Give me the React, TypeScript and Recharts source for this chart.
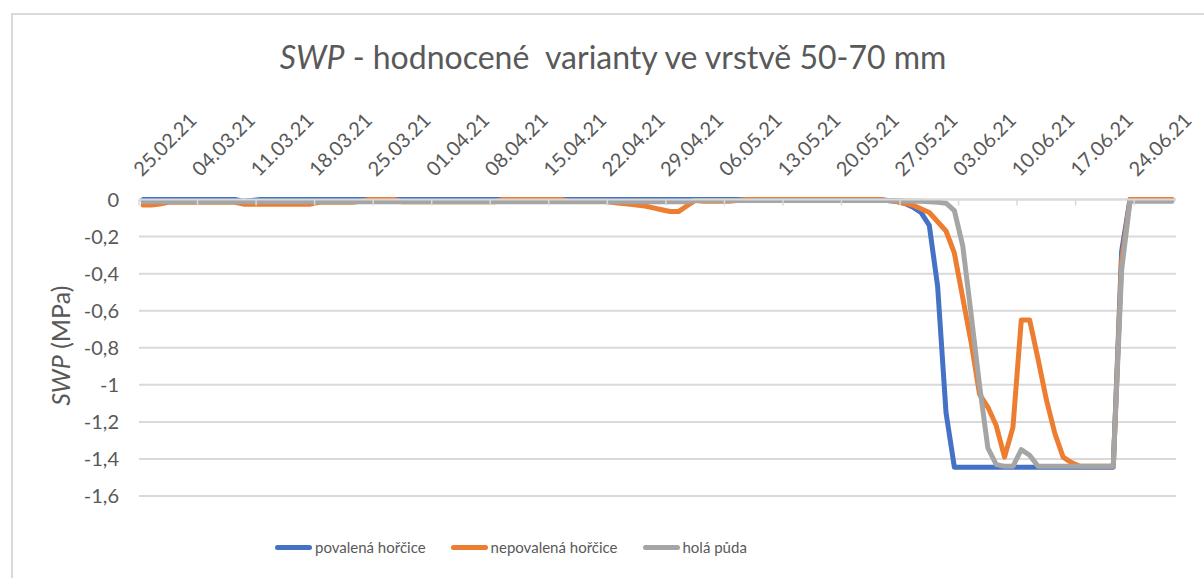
import React from 'react'
import { LineChart, Line, XAxis, YAxis, CartesianGrid } from 'recharts'

// tick labels on the top axis, one every 7 days
const DATE_LABELS = [
  '25.02.21', '04.03.21', '11.03.21', '18.03.21', '25.03.21', '01.04.21',
  '08.04.21', '15.04.21', '22.04.21', '29.04.21', '06.05.21', '13.05.21',
  '20.05.21', '27.05.21', '03.06.21', '10.06.21', '17.06.21', '24.06.21',
]

const Y_TICKS = [0, -0.2, -0.4, -0.6, -0.8, -1, -1.2, -1.4, -1.6]

// SWP (MPa), one value per day from 25.02.21 to 28.06.21
const POVALENA = [
  0, 0, 0, 0, 0, 0, 0, 0, 0, 0,
  0, 0, -0.01, -0.005, 0, 0, 0, 0, 0, 0,
  0, 0, 0, 0, 0, 0, 0, 0, 0, 0,
  0, 0, 0, 0, 0, 0, 0, 0, 0, 0,
  0, 0, 0, 0, 0, 0, 0, 0, 0, 0,
  0, 0, 0, 0, 0, 0, 0, 0, 0, 0,
  0, 0, 0, 0, 0, 0, 0, 0, 0, 0,
  0, 0, 0, 0, 0, 0, 0, 0, 0, 0,
  0, 0, 0, 0, 0, 0, 0, 0, 0, -0.005,
  -0.01, -0.02, -0.04, -0.07, -0.14, -0.47, -1.15, -1.445, -1.445, -1.445,
  -1.445, -1.445, -1.445, -1.445, -1.445, -1.445, -1.445, -1.445, -1.445, -1.445,
  -1.445, -1.445, -1.445, -1.445, -1.445, -1.445, -1.445, -0.28, 0, 0,
  0, 0, 0, 0,
]

const NEPOVALENA = [
  -0.03, -0.03, -0.025, -0.015, -0.015, -0.015, -0.015, -0.015, -0.015, -0.015,
  -0.015, -0.015, -0.025, -0.025, -0.025, -0.025, -0.025, -0.025, -0.025, -0.025,
  -0.025, -0.015, -0.015, -0.015, -0.015, -0.015, -0.01, 0, 0, 0,
  0, -0.012, -0.012, -0.012, -0.012, -0.012, -0.012, -0.012, -0.012, -0.012,
  -0.012, -0.012, -0.012, 0, 0, 0, 0, 0, 0, 0,
  0, -0.01, -0.01, -0.01, -0.01, -0.01, -0.015, -0.02, -0.025, -0.03,
  -0.035, -0.045, -0.055, -0.065, -0.065, -0.035, -0.005, -0.01, -0.01, -0.01,
  -0.01, -0.005, 0, 0, 0, 0, 0, 0, 0, 0,
  0, 0, 0, 0, 0, 0, 0, 0, 0, -0.005,
  -0.01, -0.02, -0.03, -0.05, -0.07, -0.12, -0.17, -0.29, -0.53, -0.77,
  -1.05, -1.12, -1.22, -1.39, -1.23, -0.65, -0.65, -0.86, -1.08, -1.26,
  -1.39, -1.42, -1.44, -1.44, -1.44, -1.44, -1.44, -0.33, 0, 0,
  0, 0, 0, 0,
]

const HOLA = [
  -0.012, -0.012, -0.012, -0.012, -0.012, -0.012, -0.012, -0.012, -0.012, -0.012,
  -0.012, -0.012, -0.012, -0.012, -0.012, -0.012, -0.012, -0.012, -0.012, -0.012,
  -0.012, -0.012, -0.012, -0.012, -0.012, -0.012, -0.012, -0.012, -0.012, -0.012,
  -0.012, -0.012, -0.012, -0.012, -0.012, -0.012, -0.012, -0.012, -0.012, -0.012,
  -0.012, -0.012, -0.012, -0.012, -0.012, -0.012, -0.012, -0.012, -0.012, -0.012,
  -0.012, -0.012, -0.012, -0.012, -0.012, -0.012, -0.012, -0.012, -0.012, -0.012,
  -0.012, -0.012, -0.012, -0.012, -0.012, -0.012, -0.006, -0.006, -0.006, -0.006,
  -0.006, -0.006, -0.006, -0.006, -0.006, -0.006, -0.006, -0.006, -0.006, -0.006,
  -0.006, -0.006, -0.006, -0.006, -0.006, -0.006, -0.006, -0.006, -0.006, -0.006,
  -0.006, -0.008, -0.01, -0.01, -0.012, -0.015, -0.02, -0.06, -0.25, -0.62,
  -1.0, -1.34, -1.43, -1.44, -1.44, -1.35, -1.38, -1.44, -1.44, -1.44,
  -1.44, -1.44, -1.44, -1.44, -1.44, -1.44, -1.44, -0.38, -0.01, -0.01,
  -0.01, -0.01, -0.01, -0.01,
]

const SERIES = [
  { key: 'povalena', label: 'povalená hořčice', color: '#4472C4' },
  { key: 'nepovalena', label: 'nepovalená hořčice', color: '#ED7D31' },
  { key: 'hola', label: 'holá půda', color: '#A5A5A5' },
]

const data = POVALENA.map((v, i) => ({
  day: i,
  povalena: v,
  nepovalena: NEPOVALENA[i],
  hola: HOLA[i],
}))

// ticks sit on the day boundaries, the points in the middle of each day
const X_TICKS = DATE_LABELS.map((_, k) => k * 7 - 0.5)

const FONT = 'Lato, "Open Sans", sans-serif'
const TEXT = '#595959'
const GRID = '#d9d9d9'

const DateTick = (props: any) => {
  const { x, y, payload } = props
  const label = DATE_LABELS[Math.round((payload.value + 0.5) / 7)]
  const axisY = y + 8
  const tx = x + 3
  const ty = axisY - 22
  return (
    <g>
      <line x1={x} x2={x} y1={axisY} y2={axisY + 6} stroke={GRID} strokeWidth={1.5} />
      <text x={tx} y={ty} transform={`rotate(-45, ${tx}, ${ty})`} textAnchor="start"
        fill={TEXT} fontSize={20} fontFamily={FONT}>{label}</text>
    </g>
  )
}

const YLabel = (props: any) => {
  const { viewBox } = props
  const cx = viewBox.x + 60
  const cy = viewBox.y + viewBox.height / 2 - 2
  return (
    <text x={cx} y={cy} transform={`rotate(-90, ${cx}, ${cy})`} textAnchor="middle"
      dominantBaseline="central" fill={TEXT} fontSize={25} fontFamily={FONT}>
      <tspan fontStyle="italic">SWP</tspan> (MPa)
    </text>
  )
}

export default function App() {
  return (
    <div style={{ position: 'absolute', left: 0, top: 0, width: 1204, height: 578, background: '#fff', overflow: 'hidden', fontFamily: FONT }}>
      <div style={{ position: 'absolute', left: 11, top: 13, width: 1260, height: 700, border: `2px solid ${GRID}` }} />
      <div style={{ position: 'absolute', left: 613, top: 41, transform: 'translateX(-50%)', whiteSpace: 'nowrap', fontSize: 32, lineHeight: 1, color: TEXT }}>
        <i>SWP</i> - hodnocené&nbsp; varianty ve vrstvě 50-70 mm
      </div>

      <LineChart width={1204} height={578} data={data}
        margin={{ top: 100, right: 28, left: 0, bottom: 82 }}
        style={{ position: 'absolute', left: 0, top: 0 }}>
        <CartesianGrid horizontal vertical={false} stroke={GRID} strokeWidth={2} />
        <XAxis dataKey="day" type="number" orientation="top" height={99.5}
          domain={[-0.5, 123.5]} ticks={X_TICKS} interval={0}
          axisLine={{ stroke: GRID, strokeWidth: 2 }} tickLine={false}
          tick={<DateTick />} />
        <YAxis type="number" width={139} domain={[-1.6, 0]} ticks={Y_TICKS}
          axisLine={false} tickLine={false} tickMargin={14}
          tickFormatter={(v: number) => String(v).replace('.', ',')}
          tick={{ fill: TEXT, fontSize: 20, fontFamily: FONT }}
          label={{ content: <YLabel /> }} />
        {SERIES.map(s => (
          <Line key={s.key} type="linear" dataKey={s.key} stroke={s.color} strokeWidth={5}
            dot={false} activeDot={false} strokeLinejoin="round" strokeLinecap="round"
            isAnimationActive={false} />
        ))}
      </LineChart>

      <div style={{ position: 'absolute', left: 275, top: 538, display: 'flex', gap: 25, alignItems: 'center', fontSize: 15, color: TEXT }}>
        {SERIES.map(s => (
          <div key={s.key} style={{ display: 'flex', alignItems: 'center' }}>
            <span style={{ display: 'inline-block', width: 37, height: 5, borderRadius: 3, background: s.color, marginRight: 3 }} />
            <span>{s.label}</span>
          </div>
        ))}
      </div>
    </div>
  )
}
